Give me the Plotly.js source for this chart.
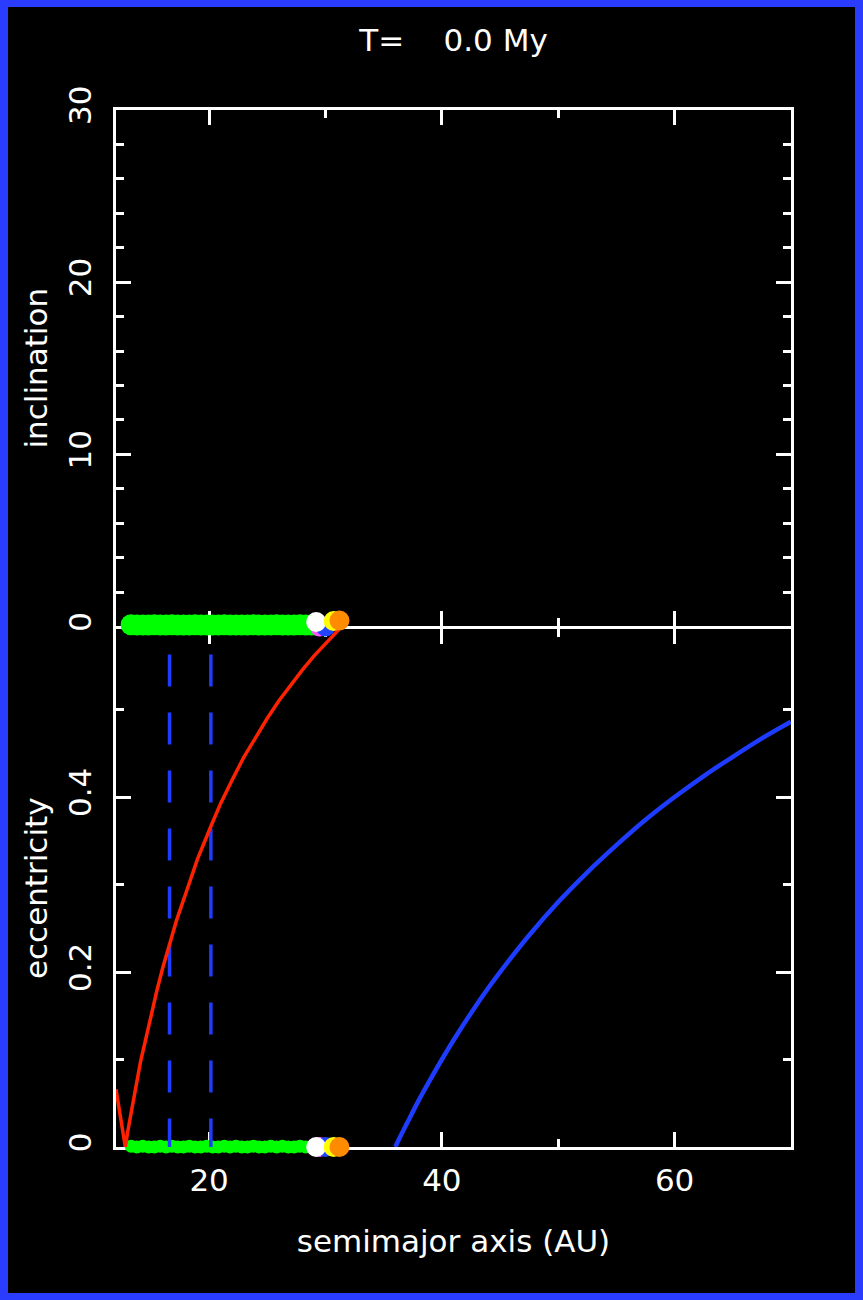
<!DOCTYPE html>
<html>
<head>
<meta charset="utf-8">
<script src="https://cdn.plot.ly/plotly-3.0.1.min.js"></script>
<style>
html,body{margin:0;padding:0;background:#2a3cff;width:863px;height:1300px;overflow:hidden;}
#chart{position:absolute;left:8px;top:7px;width:847px;height:1286px;background:#000;}
</style>
</head>
<body>
<div id="chart"></div>
<script>
// ---- data ----
const timeLabel = 'T=\u00a0\u00a0\u00a0\u00a00.0 My';

// planetesimal disk (semimajor axis AU, inclination deg, eccentricity)
const diskA = [13.3,13.8,14.3,14.8,15.3,15.8,16.3,16.8,17.3,17.8,18.3,18.8,19.3,19.8,20.3,20.8,21.3,21.8,22.3,22.8,23.3,23.8,24.3,24.8,25.3,25.8,26.3,26.8,27.3,27.8,28.3,28.8,29.2];
const diskI = [0.10,0.09,0.09,0.08,0.10,0.09,0.08,0.10,0.09,0.08,0.09,0.10,0.08,0.09,0.08,0.09,0.10,0.08,0.09,0.09,0.08,0.10,0.09,0.08,0.09,0.10,0.08,0.09,0.08,0.10,0.09,0.08,0.09];
const diskE = [0.001,0.000,0.001,0.000,0.000,0.001,0.000,0.001,0.000,0.000,0.001,0.000,0.000,0.001,0.000,0.000,0.001,0.000,0.001,0.000,0.000,0.001,0.000,0.000,0.001,0.000,0.001,0.000,0.000,0.001,0.000,0.000,0.001];

// giant planets
const planetA = [29.5, 30.0, 29.2, 30.7, 31.2];
const planetI = [0.0, 0.0, 0.26, 0.32, 0.35];
const planetE = [0.0, 0.0, 0.0, 0.0, 0.0];
const planetColors = ['#ff55ff', '#2244ff', '#ffffff', '#ffff00', '#ff8c00'];

// red curve
const redA = [12.0, 12.2, 12.4, 12.6, 12.8, 13.0, 13.3, 13.7, 14.1, 14.5, 15.0, 15.5, 16.0, 16.6, 17.2, 18.0, 19.0, 20.2, 21.0, 22.0, 23.0, 24.0, 25.0, 26.0, 27.0, 28.0, 29.0, 30.0, 31.15];
const redE = [0.066, 0.049, 0.032, 0.016, 0.0, 0.017, 0.04, 0.07, 0.097, 0.12, 0.15, 0.178, 0.204, 0.233, 0.259, 0.29, 0.329, 0.368, 0.393, 0.42, 0.446, 0.468, 0.49, 0.51, 0.528, 0.545, 0.561, 0.575, 0.5915];

// blue curve
const blueA = [36.0, 36.5, 37.0, 38.0, 39.0, 40.0, 41.0, 42.5, 44.0, 45.0, 47.5, 50.0, 52.5, 55.0, 57.5, 60.0, 62.5, 65.0, 67.5, 70.0];
const blueE = [0.0, 0.014, 0.027, 0.053, 0.077, 0.1, 0.122, 0.153, 0.182, 0.2, 0.242, 0.28, 0.314, 0.345, 0.374, 0.4, 0.424, 0.446, 0.467, 0.486];

// dashed resonance lines
const dash1A = [16.6, 16.6];
const dash2A = [20.15, 20.15];
const dashE = [0.563, 0.0];

// axes
const xRange = [12, 70];
const incRange = [0, 30];
const eccRange = [0, 0.5915];

const FONT = 'DejaVu Sans';
const traces = [
  // top panel: inclination
  {x: diskA, y: diskI, xaxis: 'x2', yaxis: 'y2', mode: 'markers', cliponaxis: false,
   marker: {color: '#00ff00', size: 21, line: {width: 0}}},
  {x: planetA, y: planetI, xaxis: 'x2', yaxis: 'y2', mode: 'markers', cliponaxis: false,
   marker: {color: planetColors, size: 20, line: {width: 0}}},
  // bottom panel: eccentricity
  {x: diskA, y: diskE, xaxis: 'x', yaxis: 'y', mode: 'markers', cliponaxis: false,
   marker: {color: '#00ff00', size: 13, line: {width: 0}}},
  {x: dash1A, y: dashE, xaxis: 'x', yaxis: 'y', mode: 'lines',
   line: {color: '#1e3cff', width: 3.5, dash: '32px,26px'}},
  {x: dash2A, y: dashE, xaxis: 'x', yaxis: 'y', mode: 'lines',
   line: {color: '#1e3cff', width: 3.5, dash: '32px,26px'}},
  {x: redA, y: redE, xaxis: 'x', yaxis: 'y', mode: 'lines',
   line: {color: '#ff2200', width: 3.5}},
  {x: blueA, y: blueE, xaxis: 'x', yaxis: 'y', mode: 'lines',
   line: {color: '#1e3cff', width: 4.5, shape: 'spline'}},
  {x: planetA, y: planetE, xaxis: 'x', yaxis: 'y', mode: 'markers', cliponaxis: false,
   marker: {color: planetColors, size: 20, line: {width: 0}}}
];

const minorX = {dtick: 10, ticks: 'inside', ticklen: 8, tickwidth: 3, tickcolor: 'white', showgrid: false};
const common = {
  showline: true, linecolor: 'white', linewidth: 3, mirror: 'ticks',
  ticks: 'inside', ticklen: 15, tickwidth: 3, tickcolor: 'white',
  showgrid: false, zeroline: false, layer: 'below traces',
  tickfont: {family: FONT, size: 31, color: 'white'}
};

const layout = {
  width: 847, height: 1286,
  paper_bgcolor: '#000', plot_bgcolor: '#000',
  margin: {l: 108, r: 64, t: 103, b: 146},
  showlegend: false,
  font: {family: FONT, color: 'white', size: 31},
  title: {text: timeLabel, font: {family: FONT, size: 31, color: 'white'},
          x: 0.5, xref: 'paper', xanchor: 'center', y: 1 - 33/1286, yref: 'container', yanchor: 'middle'},
  xaxis: Object.assign({}, common, {
    anchor: 'y', domain: [0, 1], range: xRange, tick0: 0, dtick: 20, minor: minorX,
    ticklabelstandoff: 4,
    title: {text: 'semimajor axis (AU)', font: {family: FONT, size: 31, color: 'white'}, standoff: 34}
  }),
  xaxis2: Object.assign({}, common, {
    anchor: 'y2', domain: [0, 1], range: xRange, matches: 'x', tick0: 0, dtick: 20, minor: minorX,
    showticklabels: false
  }),
  yaxis: Object.assign({}, common, {
    anchor: 'x', domain: [0, 0.49904], range: eccRange, tick0: 0, dtick: 0.2,
    minor: {dtick: 0.1, ticks: 'inside', ticklen: 8, tickwidth: 3, tickcolor: 'white', showgrid: false},
    tickangle: -90, ticklabelstandoff: 10,
    title: {text: 'eccentricity', font: {family: FONT, size: 31, color: 'white'}, standoff: 5}
  }),
  yaxis2: Object.assign({}, common, {
    anchor: 'x2', domain: [0.50193, 1], range: incRange, tick0: 0, dtick: 10,
    minor: {dtick: 2, ticks: 'inside', ticklen: 8, tickwidth: 3, tickcolor: 'white', showgrid: false},
    tickangle: -90, ticklabelstandoff: 10,
    title: {text: 'inclination', font: {family: FONT, size: 31, color: 'white'}, standoff: 5}
  })
};

Plotly.newPlot('chart', traces, layout, {staticPlot: true, displayModeBar: false});
</script>
</body>
</html>
